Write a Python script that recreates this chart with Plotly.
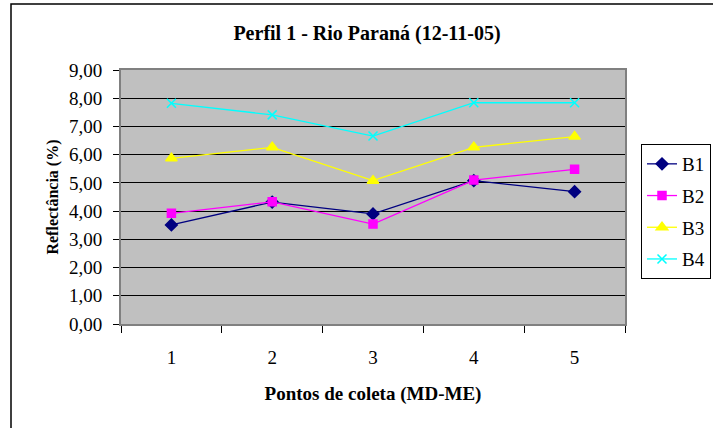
import plotly.graph_objects as go

# Sampling points along the river cross-section and reflectance per band (%)
pontos = ["1", "2", "3", "4", "5"]
b1 = [3.51, 4.32, 3.90, 5.08, 4.69]
b2 = [3.92, 4.33, 3.54, 5.10, 5.48]
b3 = [5.87, 6.26, 5.08, 6.26, 6.64]
b4 = [7.82, 7.41, 6.66, 7.84, 7.84]

series = [
    ("B1", b1, "#000080", "diamond", 9),
    ("B2", b2, "#FF00FF", "square", 8),
    ("B3", b3, "#FFFF00", "triangle-up", 10),
    ("B4", b4, "#00FFFF", "x-thin-open", 9),
]

serif = "Liberation Serif"

fig = go.Figure()
for name, vals, color, symbol, size in series:
    fig.add_trace(go.Scatter(
        x=pontos, y=vals, name=name, legendgroup=name, mode="lines+markers",
        line=dict(color=color, width=1.3),
        marker=dict(symbol=symbol, size=size, color=color,
                    line=dict(color=color, width=1.5)),
    ))

W, H = 713, 428
ml, mr, mt, mb = 121, 88, 70, 104
pw, ph = W - ml - mr, H - mt - mb

fig.update_layout(
    width=W, height=H,
    margin=dict(l=ml, r=mr, t=mt, b=mb, autoexpand=False),
    paper_bgcolor="white", plot_bgcolor="#C0C0C0",
    separators=",.",
    font=dict(family=serif, color="black", size=18),
    title=dict(text="<b>Perfil 1 - Rio Paraná (12-11-05)</b>",
               x=367 / W, xanchor="center", y=1 - 33 / H, yanchor="middle",
               font=dict(size=20, family=serif, color="black")),
    showlegend=True,
    legend=dict(x=(641 - ml) / pw, xanchor="left",
                y=(H - mb - 144) / ph, yanchor="top",
                bordercolor="black", borderwidth=1, bgcolor="white",
                font=dict(size=19, family=serif, color="black"),
                tracegroupgap=4),
    xaxis=dict(
        type="category", tickson="boundaries",
        range=[-0.5, len(pontos) - 0.5],
        showgrid=False, ticks="outside", ticklen=7, tickcolor="black",
        showline=True, linecolor="#808080", linewidth=2, mirror=True,
        tickfont=dict(size=19, family=serif, color="black"),
        ticklabelstandoff=15,
        title=dict(text="<b>Pontos de coleta (MD-ME)</b>",
                   font=dict(size=19, family=serif, color="black"),
                   standoff=20),
    ),
    yaxis=dict(
        range=[0, 9], dtick=1, tickformat=".2f",
        showgrid=True, gridcolor="black", gridwidth=1,
        ticks="outside", ticklen=6, tickcolor="black",
        showline=True, linecolor="#808080", linewidth=2, mirror=True,
        tickfont=dict(size=19, family=serif, color="black"),
        ticklabelstandoff=7, zeroline=False,
        title=dict(text="<b>Reflectância (%)</b>",
                   font=dict(size=16, family=serif, color="black"),
                   standoff=6),
    ),
)

# Chart-area frame
fig.add_shape(type="rect", xref="paper", yref="paper",
              x0=(11 - ml) / pw, x1=(W + 20 - ml) / pw,
              y0=-(H + 20 - (H - mb)) / ph, y1=(H - mb - 4) / ph,
              line=dict(color="black", width=1.5), layer="below")

fig.write_html("out.html")
